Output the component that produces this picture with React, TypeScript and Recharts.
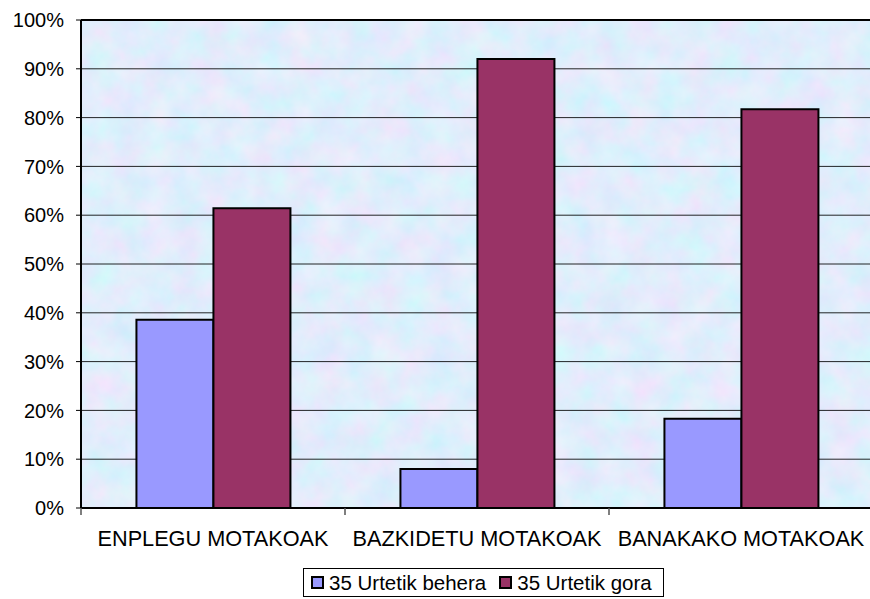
import { BarChart, Bar, XAxis, YAxis, CartesianGrid, Legend, ReferenceLine } from "recharts";

const categories = ["ENPLEGU MOTAKOAK", "BAZKIDETU MOTAKOAK", "BANAKAKO MOTAKOAK"];
const under35 = [38.6, 8.0, 18.3];
const over35 = [61.4, 92.0, 81.7];
const seriesNames = ["35 Urtetik behera", "35 Urtetik gora"];
const seriesColors = ["#9999FF", "#993366"];
const yTicks = [0, 10, 20, 30, 40, 50, 60, 70, 80, 90, 100];

const data = categories.map((name, i) => ({ name, a: under35[i], b: over35[i] }));

const FONT = '"Liberation Sans", Arial, sans-serif';
const X_TICK_MARGIN = 23;

// category label plus a small tick mark at the left edge of each band (Excel style)
function CategoryTick(props: any) {
  const { x, y, payload } = props;
  const half = payload && typeof payload.offset === "number" ? payload.offset : 0;
  const axisY = y - X_TICK_MARGIN;
  return (
    <g>
      {half > 0 && (
        <line x1={x - half} x2={x - half} y1={axisY} y2={axisY + 7} stroke="#555" strokeWidth={1.5} />
      )}
      <text x={x} y={y} dy="0.71em" textAnchor="middle" fill="#000" fontSize={21.7} fontFamily={FONT}>
        {payload.value}
      </text>
    </g>
  );
}

function LegendBox() {
  return (
    <div
      style={{
        display: "inline-flex",
        alignItems: "center",
        border: "1px solid #000",
        background: "#fff",
        height: 27,
        padding: "0 11px 0 7px",
        fontFamily: FONT,
        fontSize: 20.5,
        color: "#000",
        whiteSpace: "nowrap",
      }}
    >
      {seriesNames.map((n, i) => (
        <span key={n} style={{ display: "inline-flex", alignItems: "center", marginRight: i === 0 ? 13 : 0 }}>
          <span
            style={{
              display: "inline-block",
              width: 9,
              height: 9,
              background: seriesColors[i],
              border: "2px solid #000",
              marginRight: 5,
            }}
          />
          {n}
        </span>
      ))}
    </div>
  );
}

export default function App() {
  return (
    <div style={{ position: "absolute", left: 0, top: 0, width: 870, height: 599, overflow: "hidden", background: "#fff" }}>
      <BarChart
        width={874}
        height={599}
        data={data}
        margin={{ top: 20, right: 1, left: 0, bottom: 2 }}
        barCategoryGap="21%"
        barGap={0}
      >
        <defs>
          <filter id="tex" x="0" y="0" width="100%" height="100%">
            <feTurbulence type="fractalNoise" baseFrequency="0.035" numOctaves="4" seed="7" />
            <feColorMatrix
              type="matrix"
              values="0.36 0 0 0 0.57  -0.12 0.16 0 0 0.83  0 0 0.06 0 0.94  0 0 0 0 1"
            />
          </filter>
          <pattern id="bgPat" patternUnits="userSpaceOnUse" x="0" y="0" width="874" height="599">
            <rect x="0" y="0" width="874" height="599" fill="#cddcf6" />
            <rect x="0" y="0" width="874" height="599" filter="url(#tex)" />
          </pattern>
        </defs>
        <CartesianGrid vertical={false} stroke="#000" strokeOpacity={0.85} fill="url(#bgPat)" fillOpacity={1} />
        <XAxis
          dataKey="name"
          tickLine={false}
          tickSize={0}
          tickMargin={X_TICK_MARGIN}
          axisLine={{ stroke: "#000", strokeWidth: 2 }}
          tick={<CategoryTick />}
          interval={0}
          height={60}
        />
        <YAxis
          domain={[0, 100]}
          ticks={yTicks}
          tickFormatter={(v) => `${v}%`}
          width={81}
          tickSize={5}
          tickMargin={12}
          tickLine={{ stroke: "#000" }}
          axisLine={{ stroke: "#000", strokeWidth: 2 }}
          tick={{ fill: "#000", fontSize: 20, fontFamily: FONT }}
        />
        <ReferenceLine y={100} stroke="#000" strokeWidth={2} />
        <Bar dataKey="a" name={seriesNames[0]} fill={seriesColors[0]} stroke="#000" strokeWidth={2} isAnimationActive={false} />
        <Bar dataKey="b" name={seriesNames[1]} fill={seriesColors[1]} stroke="#000" strokeWidth={2} isAnimationActive={false} />
        <Legend
          verticalAlign="bottom"
          content={() => <LegendBox />}
          wrapperStyle={{ left: 303, bottom: 2, width: "auto", lineHeight: 0 }}
        />
      </BarChart>
    </div>
  );
}
